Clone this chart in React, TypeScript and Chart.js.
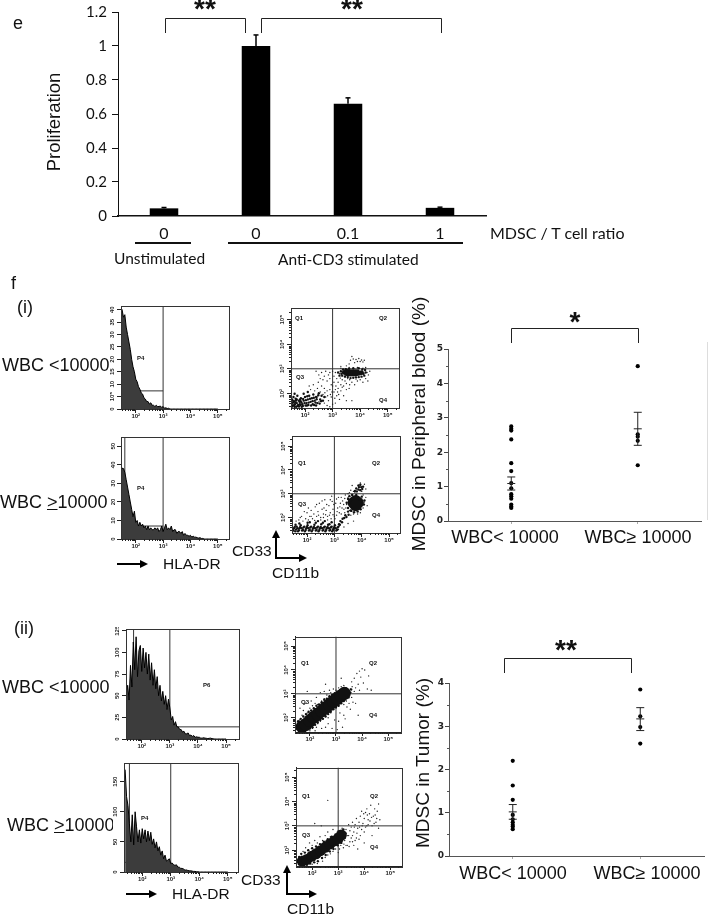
import React, { useEffect, useRef } from "react";
import Chart from "chart.js/auto";

// ---------- bar chart (e) ----------
const ratioLabels = ["0", "0", "0.1", "1"];
const proliferation = [0.045, 1.0, 0.66, 0.048];
const proliferationHi = [0.05, 1.065, 0.695, 0.052];
const proliferationTicks = [0, 0.2, 0.4, 0.6, 0.8, 1, 1.2];

// ---------- histograms ----------
const histBins = [1.4,1.45,1.5,1.55,1.6,1.65,1.7,1.75,1.8,1.85,1.9,1.95,2,2.05,2.1,2.15,2.2,2.25,2.3,2.35,2.4,2.45,2.5,2.55,2.6,2.65,2.7,2.75,2.8,2.85,2.9,2.95,3,3.05,3.1,3.15,3.2,3.25,3.3,3.35,3.4,3.45,3.5,3.55,3.6,3.65,3.7,3.75,3.8,3.85,3.9,3.95,4,4.05,4.1,4.15,4.2,4.25,4.3,4.35,4.4,4.45,4.5,4.55,4.6,4.65,4.7,4.75,4.8,4.85,4.9,4.95,5];
const hist1 = [40,41,40,37,38,33,30,27,24,20,17,15,12,11,9,8,6.5,6,4.5,4,3,3,2,2.5,1.5,1.5,1,1.5,1,1,1.2,0.6,1,0.3,0.5,0.2,0.3];
const hist2 = [40,40,38,38,36,32,28,24,20,16,12,15,9,10,7,9,7,8,6,7,5,7,5,6,5,5,6,5,6,4,5,7,4,6,8,5,6,5,7,4,5,5,3,4,4,3,4,2,3,2,2,1.5,2,1,1.5,1,1,0.7,0.5,0.7,0.3,0.3];
const hist3 = [40,55,62,45,85,60,112,80,118,72,102,108,78,105,82,100,75,98,68,88,62,80,58,72,50,62,44,55,40,50,34,46,36,22,26,16,20,14,14,11,11,8,9,6,6,7,4,4.5,3,4,2,2.5,2,2,1,1,1.5,1,0.8,0.5,0.8,1,0.4,0.3];
const hist4 = [170,125,110,80,50,95,45,100,75,50,70,48,72,55,70,50,68,52,66,46,55,40,50,35,42,28,35,22,28,18,20,22,14,15,12,11,12,8,8,6,6,5,3,3.5,2.5,2,2,1.5,1,1,0.5,0.5];
const hist1YTicks = [0,5,10,15,20,25,30,35,40];
const hist2YTicks = [0,10,20,30,40,50];
const hist3YTicks = [0,25,50,75,100,125];
const hist4YTicks = [0,50,100,150];
const logTicks = [2,3,4,5];
const logMinor = [1.48,1.6,1.7,1.78,1.85,1.9,1.95,2.3,2.48,2.6,2.7,2.78,2.85,2.9,2.95,3.3,3.48,3.6,3.7,3.78,3.85,3.9,3.95,4.3,4.48,4.6,4.7,4.78,4.85,4.9,4.95,5.3];
const logLabels: Record<number,string> = {2:"10²",3:"10³",4:"10⁴",5:"10⁵"};

// ---------- flow plots: [log CD11b, log CD33] ----------
const flow1Core = [[3.42,2.85],[3.5,2.8],[3.5,2.9],[3.58,2.78],[3.58,2.88],[3.66,2.78],[3.66,2.88],[3.74,2.78],[3.74,2.88],[3.82,2.78],[3.82,2.88],[3.9,2.8],[3.9,2.88],[3.98,2.82],[4.05,2.84]];
const flow1Low = [[1.5,1.55],[1.55,1.7],[1.6,1.5],[1.65,1.62],[1.7,1.75],[1.75,1.52],[1.8,1.65],[1.85,1.8],[1.9,1.55],[1.95,1.7],[2,1.85],[2.05,1.6],[2.1,1.75],[2.15,1.9],[2.2,1.65],[2.25,1.8],[2.3,1.95],[2.35,1.7],[2.4,1.85],[2.45,1.6],[1.58,1.85],[1.72,1.9],[2.02,1.5],[2.28,1.55],[1.52,1.45],[1.68,1.45],[1.88,1.45],[2.55,1.75],[2.6,1.9],[2.1,2.05],[1.95,1.98],[2.5,2],[1.62,1.98],[1.83,1.52],[2.12,1.52],[2.4,1.5],[1.52,1.6],[1.56,1.5],[1.6,1.68],[1.63,1.55],[1.66,1.78],[1.7,1.6],[1.73,1.48],[1.77,1.7],[1.81,1.56],[1.84,1.68],[1.87,1.62],[1.92,1.48],[1.93,1.77],[1.98,1.6],[2.03,1.72],[2.07,1.5],[2.08,1.88],[2.13,1.62],[2.18,1.78],[2.22,1.5],[2.27,1.68],[2.32,1.82],[2.38,1.62],[2.42,1.76],[2.48,1.92],[2.53,1.58],[2.58,1.68],[2.33,1.52],[1.53,1.75],[1.57,1.62],[1.62,1.45],[1.67,1.7],[1.78,1.46],[1.82,1.75],[2.65,1.7],[2.7,1.85],[3.25,2.72],[3.3,2.9],[3.35,2.72],[3.38,2.97],[3.45,2.68],[3.55,2.66],[3.65,2.62],[3.75,2.63],[3.85,2.65],[3.95,2.66],[4.05,2.68],[4.15,2.72],[4.2,2.85],[4.18,2.95],[4.08,2.97],[3.2,2.85],[3.95,3.02],[3.6,3],[3.75,3.02],[3.48,2.98],[4.12,2.8],[3.32,2.8]];
const flow1Specks = [[3.6,3.2],[3.65,3.35],[3.7,3.5],[3.8,3.25],[3.85,3.38],[3.9,3.3],[3.95,3.42],[4,3.3],[4.05,3.36],[4.1,3.28],[3.3,3.1],[3.5,3.12],[4.15,3.35],[3.75,3.4],[3,2.9],[3.05,2.7],[3.1,2.85],[3.15,2.6],[3.2,2.45],[3.25,2.8],[3.3,2.35],[3.35,2.55],[3.4,2.3],[3.45,2.5],[3.5,2.4],[3.55,2.6],[3.6,2.2],[3.7,2.45],[3.8,2.35],[3.9,2.5],[4,2.55],[4.1,2.45],[4.2,2.6],[4.25,2.85],[4.3,2.75],[4.2,3.05],[4.1,3.02],[3.9,3.05],[3.6,3.05],[3.3,3.02],[4.35,2.9],[2.4,2.9],[2.5,2.75],[2.6,2.85],[2.55,2.6],[2.7,2.7],[2.75,2.9],[2.8,2.5],[2.85,2.75],[2.9,2.6],[2.95,2.35],[2.6,2.3],[2.7,2.2],[2.8,2.1],[2.9,2.15],[3,2.3],[3.05,2.05],[3.15,1.9],[3.2,2.2],[3.25,1.75],[3.1,1.6],[3.4,1.9],[3.5,1.7],[2.95,1.85],[2.85,1.7],[2.75,1.85],[2.65,1.95],[2.55,2.05],[2.45,2.2],[2.35,2.1],[2.3,2.35],[2.2,2.15],[2.15,2.3],[2.7,1.6],[2.8,1.5],[2.6,1.7],[2.5,1.65],[2.45,1.85],[2.9,1.45],[3,1.55],[3.7,1.7],[3.45,2.7],[3.28,2.62],[3.62,2.55],[4.28,2.5],[3.85,2.58],[3.05,2.45],[3.12,2.3],[3.18,2.05],[3.1,2.15],[3.08,1.8],[2.98,2.05],[2.92,1.95],[2.82,1.9],[2.72,2.02],[3.3,2.1],[3.22,1.95],[3.35,2.25],[3.5,2.15],[3.62,2.35],[2.9,2.85],[2.65,2.55],[2.48,2.45]];

const flow2Core = [[3.78,2.62],[3.7,2.62],[3.86,2.62],[3.78,2.7],[3.78,2.52]];
const flow2Low = [[1.46,1.42],[1.52,1.55],[1.57,1.42],[1.62,1.62],[1.67,1.42],[1.72,1.55],[1.77,1.68],[1.82,1.45],[1.87,1.58],[1.92,1.42],[1.97,1.55],[2.02,1.68],[2.07,1.45],[2.12,1.58],[2.17,1.42],[2.22,1.55],[2.27,1.7],[2.32,1.45],[2.37,1.58],[2.42,1.42],[2.47,1.55],[2.52,1.72],[2.57,1.45],[2.62,1.58],[2.67,1.42],[2.72,1.55],[2.77,1.7],[2.82,1.45],[2.87,1.58],[2.92,1.42],[2.97,1.55],[3.02,1.68],[3.07,1.45],[3.12,1.58],[3.17,1.72],[3.22,1.85],[3.3,1.95],[3.4,2.1],[3.5,2.25],[2.1,1.8],[2.4,1.85],[2.65,1.85],[2.9,1.8],[1.5,1.47],[1.55,1.6],[1.6,1.5],[1.65,1.55],[1.7,1.47],[1.75,1.6],[1.8,1.55],[1.85,1.48],[1.9,1.62],[1.95,1.48],[2,1.6],[2.05,1.55],[2.1,1.48],[2.15,1.62],[2.2,1.48],[2.25,1.6],[2.3,1.55],[2.35,1.48],[2.4,1.62],[2.45,1.48],[2.5,1.6],[2.55,1.55],[2.6,1.48],[2.65,1.62],[2.7,1.48],[2.75,1.6],[2.8,1.55],[2.85,1.48],[2.9,1.62],[2.95,1.48],[3,1.6],[3.05,1.55],[3.1,1.48],[3.15,1.62],[3.2,1.7],[2.82,1.72],[2.58,1.78],[2.32,1.78],[2.02,1.78],[1.72,1.75],[1.58,1.7],[3.28,1.8],[3.36,1.98],[3.44,2.02],[3.52,2.12],[3.6,2.3],[3.75,3.12],[3.82,3.1],[3.88,3.18],[3.95,3.15],[4.02,3.2],[3.8,3.22],[3.9,3.28],[3.98,3.28],[4.05,3.3],[3.88,3.35],[3.95,3.38],[3.45,2.62],[3.5,2.4],[3.5,2.78],[3.55,2.9],[3.62,2.28],[3.72,2.22],[3.85,2.25],[3.96,2.35],[4.08,2.55],[4.1,2.72],[4,2.88],[3.65,2.95],[3.8,2.95]];
const flow2Specks = [[1.7,1.9],[1.8,2.05],[1.95,1.95],[2,2.2],[2.1,2.05],[2.15,2.3],[2.2,1.95],[2.25,2.15],[2.3,2.45],[2.35,2.05],[2.4,2.25],[2.45,2.6],[2.5,2],[2.55,2.35],[2.6,2.15],[2.65,2.75],[2.7,2.3],[2.75,2.05],[2.8,2.5],[2.85,2.2],[2.9,2.9],[2.95,2.35],[3,2.05],[3.05,2.6],[3.1,2.25],[3.15,2.85],[3.2,2.45],[3.25,2.15],[3.3,2.7],[3.35,2.35],[3.4,2.95],[3.45,2.55],[3.5,2.85],[3.55,2.3],[3.6,2.1],[3.65,2.95],[3.7,2.15],[3.85,2.15],[3.95,2.2],[4.05,2.4],[4.1,2.65],[4.15,2.85],[4.2,2.5],[4.05,2.95],[3.5,3],[3.6,3.15],[3.7,3.1],[3.55,3.05],[3.65,3.35],[4,3.1],[4.05,3.3],[4.1,3.4],[3.95,3.45],[3.75,3.05],[4.15,3.2],[2.85,2.75],[2.55,2.7],[2.35,2.55],[2.05,2.4],[1.9,2.25],[3.15,1.5],[3.35,1.6],[3.5,1.75],[3.7,1.85],[1.6,1.85],[1.75,2],[1.85,1.85],[2.05,1.9],[2.15,2.05],[2.28,1.88],[2.42,2.1],[2.5,1.9],[2.6,2],[2.68,2.12],[2.75,1.9],[2.82,2.1],[2.88,1.95],[2.95,2.12],[3.02,1.95],[3.08,2.1],[3.12,2.4],[3.18,2.2],[3.22,2.6],[3.28,2.4],[3.34,2.55],[3.38,2.2],[3.42,2.4],[2.98,2.55],[2.72,2.55],[2.62,2.4],[2.92,2.68],[3.08,2.78],[3.25,2.85],[3.38,2.8]];

const flow3Core = [[1.7,1.62],[1.85,1.72],[2,1.88],[2.15,2.02],[2.3,2.15],[2.45,2.28],[2.6,2.42],[2.75,2.55],[2.9,2.68],[3.05,2.8],[3.2,2.92],[3.32,3.02]];
const flow3Low = [[1.5,1.55],[1.55,1.85],[1.6,1.7],[1.65,1.95],[1.7,1.5],[1.75,2.05],[1.8,1.45],[1.85,2.15],[1.9,1.5],[1.95,2.25],[2,1.55],[2.05,2.3],[2.1,1.6],[2.15,2.4],[2.2,1.7],[2.25,2.5],[2.3,1.8],[2.35,2.55],[2.4,1.9],[2.45,2.65],[2.5,1.95],[2.55,2.75],[2.6,2.05],[2.65,2.8],[2.7,2.15],[2.75,2.9],[2.8,2.25],[2.85,2.95],[2.9,2.35],[2.95,3.02],[3,2.45],[3.05,3.08],[3.1,2.5],[3.15,3.15],[3.2,2.6],[3.25,3.2],[3.3,2.7],[3.35,3.22],[3.4,2.85],[3.45,3.15],[3.5,3],[3.55,3.05],[3.48,2.85],[3.58,3.18],[1.62,1.5],[1.78,1.6],[1.92,1.7],[2.08,1.8],[2.22,1.9],[2.38,2.05],[2.52,2.15],[2.68,2.3],[2.82,2.42],[2.98,2.55],[3.12,2.68],[3.28,2.82],[1.72,1.82],[1.88,1.98],[2.02,2.12],[2.18,2.25],[2.32,2.38],[2.48,2.5],[2.62,2.65],[2.78,2.78],[2.92,2.88],[3.08,2.98],[3.22,3.08]];
const flow3Specks = [[1.5,1.5],[1.55,1.7],[1.6,1.45],[1.6,1.9],[1.65,1.6],[1.7,2.1],[1.7,1.5],[1.75,2.3],[1.8,1.95],[1.85,1.5],[1.9,2.2],[1.95,1.6],[2,2.4],[2,1.45],[2.1,2.5],[2.1,1.55],[2.2,2.6],[2.25,1.6],[2.3,1.75],[2.3,2.55],[2.4,1.85],[2.45,2.7],[2.5,1.95],[2.55,2.8],[2.6,2.05],[2.6,1.6],[2.65,2.95],[2.7,2],[2.8,2.2],[2.8,3.05],[2.85,1.55],[2.9,2.35],[2.9,3.2],[3,2.4],[3,3.15],[3.05,1.5],[3.1,2.5],[3.1,3.25],[3.2,2.6],[3.2,3.3],[3.25,1.6],[3.3,2.55],[3.3,3.35],[3.4,2.7],[3.4,3.25],[3.45,2.9],[3.5,3.05],[3.5,2.6],[3.55,3.2],[3.6,2.85],[3.6,3.5],[3.7,3.65],[3.7,3.1],[3.8,3.85],[3.85,3.4],[3.9,3.95],[3.95,3.7],[4,4.05],[4.1,4],[4.05,3.45],[4.2,3.2],[4.35,3.15],[4.25,3.75],[3.1,1.85],[3.3,2.1],[3.55,2.35],[3.85,2.1],[3.2,3.65],[2.6,3.4],[1.9,3.1],[3.35,1.95],[3.75,2.6],[1.62,2.4],[1.82,2.6],[2.05,2.7],[2.25,2.85],[2.4,3.05],[2.55,3.1],[2.75,3.15],[2.2,1.45],[2.45,1.55],[2.7,1.75],[2.95,1.9],[3.15,2.2],[3.42,2.45],[3.65,2.65],[3.62,3.3],[3.75,3.25],[3.9,3.15]];

const flow4Core = [[1.62,1.55],[1.8,1.62],[1.98,1.75],[2.15,1.85],[2.32,1.98],[2.5,2.12],[2.68,2.25],[2.85,2.38],[3,2.48],[3.12,2.62]];
const flow4Low = [[1.5,1.42],[1.5,1.72],[1.58,1.85],[1.65,1.42],[1.72,1.9],[1.8,1.4],[1.85,2],[1.92,1.45],[2,2.08],[2.08,1.5],[2.15,2.15],[2.22,1.55],[2.3,2.25],[2.38,1.68],[2.45,2.35],[2.52,1.8],[2.6,2.45],[2.68,1.95],[2.75,2.55],[2.82,2.05],[2.9,2.65],[2.98,2.2],[3.05,2.75],[3.12,2.3],[3.2,2.85],[3.25,2.5],[3.28,2.7],[1.7,1.68],[1.88,1.82],[2.05,1.65],[2.25,1.75],[2.42,1.9],[2.6,2.02],[2.78,2.15],[2.92,2.28],[3.08,2.42],[1.95,1.58],[2.12,1.98],[2.3,2.1],[2.48,2.22],[2.65,2.35],[2.82,2.48],[2.95,2.58],[3.18,2.55]];
const flow4Specks = [[1.55,1.4],[1.6,1.75],[1.65,1.95],[1.75,2.1],[1.85,2],[1.9,2.3],[2,2.2],[2,1.42],[2.1,2.4],[2.2,2.3],[2.2,1.45],[2.3,2.55],[2.4,2.4],[2.4,1.55],[2.5,2.6],[2.5,1.7],[2.6,2.75],[2.6,1.8],[2.7,2.55],[2.7,1.85],[2.8,2.85],[2.8,1.95],[2.9,2.6],[2.9,2.05],[3,2.8],[3,1.9],[3.1,2.2],[3.15,2.9],[3.2,2.1],[3.25,2.4],[3.3,2.85],[3.35,2.2],[3.4,2.6],[3.4,3.05],[3.45,2.35],[3.5,2.95],[3.5,2.5],[3.55,3.15],[3.6,2.2],[3.6,2.75],[3.65,3.05],[3.7,2.5],[3.7,3.3],[3.75,2.9],[3.8,3.15],[3.8,2.45],[3.85,3.4],[3.9,2.85],[3.9,3.6],[3.95,3.1],[4,3.3],[4,2.75],[4.05,3.55],[4.1,3],[4.1,3.7],[4.15,3.25],[4.2,3.5],[4.25,3.85],[4.3,3],[4.35,3.4],[4.4,3.7],[4.45,3.15],[4.5,3.6],[4.55,3.9],[4.3,2.6],[4.55,2.9],[4.6,3.25],[3.3,2.2],[3.75,2.05],[4,2.3],[2.35,3],[2.1,3.1],[2.6,4.05],[3.35,2.6],[3.45,2.8],[3.55,2.6],[3.65,2.4],[3.72,2.7],[3.85,2.6],[3.92,3],[4.05,2.95],[4.15,3.05],[4.22,3.2],[4.28,3.35],[4.38,3.1],[4.42,3.45],[4.48,3.3],[3.98,3.5],[4.12,3.45],[3.82,2.95],[3.55,2.35],[3.42,2.15],[3.22,2.25],[3.05,2.05],[3.62,2.95]];

// ---------- dot plots ----------
const groupLabels = ["WBC< 10000", "WBC≥ 10000"];
const bloodLow = [2.75,2.68,2.63,2.37,1.68,1.45,1.1,0.95,0.78,0.72,0.65,0.48,0.42,0.38];
const bloodHigh = [4.5,2.52,2.45,2.33,1.62];
const bloodErr = [[1.09,0.9,1.28],[2.68,2.2,3.16]];
const tumorLow = [2.2,1.63,1.3,0.95,0.85,0.78,0.72,0.68,0.62];
const tumorHigh = [3.85,3.23,2.98,2.6];
const tumorErr = [[1.02,0.85,1.19],[3.17,2.9,3.43]];
const bloodTicks = [0,1,2,3,4,5];
const bloodMinor = [0.5,1.5,2.5,3.5,4.5];
const tumorTicks = [0,1,2,3,4];
const tumorMinor = [0.5,1.5,2.5,3.5];

const ARIAL = '"Liberation Sans", Arial, sans-serif';
const NARROW = 'Lato, "Liberation Sans", sans-serif';

function decor(o: any) {
  return {
    id: "decor",
    afterDatasetsDraw(chart: any) {
      const { ctx, chartArea: a, scales } = chart;
      ctx.save();
      if (o.frame) {
        ctx.strokeStyle = "#333"; ctx.lineWidth = 1;
        ctx.strokeRect(Math.round(a.left)+0.5, Math.round(a.top)+0.5, Math.round(a.width), Math.round(a.height));
      }
      ctx.strokeStyle = o.minorColor || "#222"; ctx.lineWidth = 1;
      for (const v of o.minorX || []) {
        const p = Math.round(scales.x.getPixelForValue(v)) + 0.5;
        if (p < a.left || p > a.right) continue;
        ctx.beginPath(); ctx.moveTo(p, a.bottom); ctx.lineTo(p, a.bottom + (o.minorLen || 2)); ctx.stroke();
      }
      for (const v of o.minorY || []) {
        const p = Math.round(scales.y.getPixelForValue(v)) + 0.5;
        if (p < a.top || p > a.bottom) continue;
        ctx.beginPath(); ctx.moveTo(a.left, p); ctx.lineTo(a.left - (o.minorLen || 2), p); ctx.stroke();
      }
      ctx.strokeStyle = o.errColor || "#111"; ctx.lineWidth = o.errWidth || 1;
      for (const e of o.errors || []) {
        const x = scales.x.getPixelForValue(e.x);
        const seg = (x0: number, y0: number, x1: number, y1: number) => { ctx.beginPath(); ctx.moveTo(x0,y0); ctx.lineTo(x1,y1); ctx.stroke(); };
        const hi = scales.y.getPixelForValue(e.hi), lo = scales.y.getPixelForValue(e.lo);
        seg(x, hi, x, lo);
        seg(x-e.cap, hi, x+e.cap, hi);
        if (e.mid !== undefined) {
          const m = scales.y.getPixelForValue(e.mid);
          seg(x-e.cap, m, x+e.cap, m);
          seg(x-e.cap, lo, x+e.cap, lo);
        }
      }
      ctx.restore();
    },
  };
}

type M = { l: number; r: number; t: number; b: number };
function fixAxes(m: M) {
  return {
    x: (s: any) => { s.height = m.b; s.paddingLeft = 0; s.paddingRight = 0; },
    y: (s: any) => { s.width = m.l; s.paddingTop = 0; s.paddingBottom = 0; },
  };
}

function ChartBox({ box, m, config }: { box: number[]; m: M; config: () => any }) {
  const ref = useRef<HTMLCanvasElement>(null);
  useEffect(() => {
    const c = new Chart(ref.current as any, config());
    return () => c.destroy();
  }, []);
  const [l, t, r, b] = box;
  const w = r - l + m.l + m.r, h = b - t + m.t + m.b;
  return (
    <canvas ref={ref} width={w} height={h}
      style={{ position: "absolute", left: l - m.l, top: t - m.t, width: w, height: h }} />
  );
}

const pts = (a: number[][]) => a.map(([x, y]) => ({ x, y }));

function logAxis(m: M, which: "x" | "y", min: number, max: number, ticks: number[], rotate: boolean) {
  const f = fixAxes(m);
  return {
    type: "linear", min, max,
    afterBuildTicks: (s: any) => { s.ticks = ticks.map((value) => ({ value })); },
    afterFit: f[which],
    border: { color: "#222", width: 1 },
    grid: { display: true, drawOnChartArea: false, drawTicks: true, tickLength: 4, color: "#222", lineWidth: 1 },
    ticks: {
      autoSkip: false, padding: 0,
      font: { family: ARIAL, size: 6, weight: "bold" }, color: "#222",
      callback: (v: number) => logLabels[v] ?? String(v),
      ...(rotate ? { minRotation: 90, maxRotation: 90, crossAlign: "center" } : { maxRotation: 0 }),
    },
  };
}

function histConfig(m: M, values: number[], xr: number[], yMax: number, yTicks: number[], vGates: number[], hGate: number[]) {
  const bins = histBins.map((x, i) => ({ x, y: values[i] ?? 0 }));
  const gate = (d: any[]) => ({ data: d, showLine: true, pointRadius: 0, borderColor: "#333", borderWidth: 1, fill: false });
  return {
    type: "scatter",
    data: {
      datasets: [
        { data: bins, showLine: true, pointRadius: 0, borderColor: "#000", borderWidth: 1, backgroundColor: "#3c3c3c", fill: "origin" },
        ...vGates.map((v) => gate([{ x: v, y: 0 }, { x: v, y: yMax }])),
        gate([{ x: hGate[1], y: hGate[0] }, { x: hGate[2], y: hGate[0] }]),
      ],
    },
    options: {
      animation: false, responsive: false, devicePixelRatio: 1,
      layout: { padding: { top: m.t, right: m.r } },
      plugins: { legend: { display: false }, tooltip: { enabled: false } },
      scales: { x: logAxis(m, "x", xr[0], xr[1], logTicks, false), y: logAxis(m, "y", 0, yMax, yTicks, true) },
    },
    plugins: [decor({ frame: true, minorX: logMinor })],
  };
}

function flowConfig(m: M, core: number[][], low: number[][], specks: number[][], xr: number[], yr: number[], coreR: number) {
  const gate = (d: number[][]) => ({ data: pts(d), showLine: true, pointRadius: 0, borderColor: "#333", borderWidth: 1, fill: false });
  return {
    type: "scatter",
    data: {
      datasets: [
        { data: pts(core), pointRadius: coreR, pointBackgroundColor: "#111", pointBorderWidth: 0 },
        { data: pts(low), pointRadius: 1.2, pointBackgroundColor: "#111", pointBorderWidth: 0 },
        { data: pts(specks), pointRadius: 0.7, pointBackgroundColor: "#222", pointBorderWidth: 0 },
        gate([[3, yr[0]], [3, yr[1]]]),
        gate([[xr[0], 3], [xr[1], 3]]),
      ],
    },
    options: {
      animation: false, responsive: false, devicePixelRatio: 1,
      layout: { padding: { top: m.t, right: m.r } },
      plugins: { legend: { display: false }, tooltip: { enabled: false } },
      scales: { x: logAxis(m, "x", xr[0], xr[1], logTicks, false), y: logAxis(m, "y", yr[0], yr[1], logTicks, true) },
    },
    plugins: [decor({ frame: true, minorX: logMinor, minorY: logMinor })],
  };
}

function dotConfig(m: M, low: number[], high: number[], err: number[][], yMax: number, ticks: number[], minor: number[]) {
  const f = fixAxes(m);
  return {
    type: "scatter",
    data: {
      datasets: [
        { data: low.map((y) => ({ x: 0, y })), pointRadius: 2.1, pointBackgroundColor: "#000", pointBorderWidth: 0 },
        { data: high.map((y) => ({ x: 1, y })), pointRadius: 2.1, pointBackgroundColor: "#000", pointBorderWidth: 0 },
      ],
    },
    options: {
      animation: false, responsive: false, devicePixelRatio: 1,
      layout: { padding: { top: m.t, right: m.r } },
      plugins: { legend: { display: false }, tooltip: { enabled: false } },
      scales: {
        x: {
          type: "linear", min: -0.5, max: 1.5, afterFit: f.x,
          afterBuildTicks: (s: any) => { s.ticks = [{ value: 0 }, { value: 1 }]; },
          border: { color: "#555", width: 1 },
          grid: { drawOnChartArea: false, tickLength: 3, color: "#aaa" },
          ticks: { display: false },
        },
        y: {
          type: "linear", min: 0, max: yMax, afterFit: f.y,
          afterBuildTicks: (s: any) => { s.ticks = ticks.map((value) => ({ value })); },
          border: { color: "#555", width: 1 },
          grid: { drawOnChartArea: false, tickLength: 4, color: "#444" },
          ticks: { padding: 1, font: { family: '"DejaVu Sans"', size: 9, weight: "bold" }, color: "#222" },
        },
      },
    },
    plugins: [decor({
      minorY: minor, minorLen: 2, minorColor: "#555", errColor: "#222",
      errors: err.map((e, i) => ({ x: i, mid: e[0], lo: e[1], hi: e[2], cap: 4 })),
    })],
  };
}

function barConfig(m: M) {
  const f = fixAxes(m);
  return {
    type: "bar",
    data: { labels: ratioLabels, datasets: [{ data: proliferation, backgroundColor: "#000", barPercentage: 0.31, categoryPercentage: 1 }] },
    options: {
      animation: false, responsive: false, devicePixelRatio: 1,
      layout: { padding: { top: m.t, right: m.r } },
      plugins: { legend: { display: false }, tooltip: { enabled: false } },
      scales: {
        x: {
          afterFit: f.x,
          border: { color: "#111", width: 1.5 },
          grid: { display: false },
          ticks: { padding: 0, font: { family: NARROW, size: 16 }, color: "#111" },
        },
        y: {
          min: 0, max: 1.2, afterFit: f.y,
          afterBuildTicks: (s: any) => { s.ticks = proliferationTicks.map((value) => ({ value })); },
          border: { color: "#111", width: 1 },
          grid: { drawOnChartArea: false, tickLength: 6, color: "#111" },
          ticks: { padding: 5, font: { family: NARROW, size: 15 }, color: "#111", callback: (v: number) => String(v) },
        },
      },
    },
    plugins: [decor({
      errColor: "#000", errWidth: 1.5,
      errors: proliferationHi.map((hi, i) => ({ x: i, lo: proliferation[i], hi, cap: 2.5 })),
    })],
  };
}

function T({ x, y, size = 18, font = ARIAL, anchor = "left", clip, weight, children }: any) {
  const style: React.CSSProperties = {
    position: "absolute", left: x, top: y, fontFamily: font, fontSize: size, fontWeight: weight, lineHeight: 1,
    whiteSpace: "nowrap", color: "#111",
    transform: `translateY(-50%)${anchor === "center" ? " translateX(-50%)" : ""}`,
  };
  if (clip) { style.width = clip; style.overflow = "hidden"; }
  return <div style={style}>{children}</div>;
}

function VText({ x, y, size, children }: any) {
  return (
    <div style={{ position: "absolute", left: x, top: y, fontFamily: ARIAL, fontSize: size, lineHeight: 1, whiteSpace: "nowrap", color: "#111", transform: "translate(-50%,-50%) rotate(-90deg)" }}>{children}</div>
  );
}

const GE = <span style={{ textDecoration: "underline" }}>&gt;</span>;

function Overlay() {
  const bracket = (x0: number, x1: number, top: number, bot: number) => `M${x0} ${bot}V${top}H${x1}V${bot}`;
  return (
    <svg width={708} height={915} style={{ position: "absolute", left: 0, top: 0, pointerEvents: "none" }}>
      <g fill="none" stroke="#222" strokeWidth={1}>
        <path d={bracket(165.5, 245.5, 18.5, 33)} />
        <path d={bracket(261.5, 441.5, 18.5, 33)} />
        <path d={bracket(511.5, 638.5, 328.5, 343)} />
        <path d={bracket(504.5, 631.5, 658.5, 673)} />
      </g>
      <g stroke="#111" strokeWidth={2}>
        <line x1={135} x2={191} y1={243} y2={243} />
        <line x1={228} x2={463} y1={243} y2={243} />
      </g>
      <g fill="none" stroke="#000" strokeWidth={2}>
        <line x1={117} x2={142} y1={564} y2={564} />
        <line x1={126} x2={151} y1={894} y2={894} />
        <path d="M276 536V558H301" />
        <path d="M287 871V894H311" />
      </g>
      <g fill="#000" stroke="none">
        <path d="M148 564l-8 -4v8z" />
        <path d="M157 894l-8 -4v8z" />
        <path d="M276 530l-4 8h8z" />
        <path d="M307 558l-8 -4v8z" />
        <path d="M287 865l-4 8h8z" />
        <path d="M317 894l-8 -4v8z" />
      </g>
    </svg>
  );
}

export default function App() {
  const mHist: M = { l: 14, r: 8, t: 2, b: 14 };
  const mFlow: M = { l: 14, r: 8, t: 2, b: 14 };
  const mDot: M = { l: 16, r: 2, t: 7, b: 8 };
  const mBar: M = { l: 58, r: 6, t: 8, b: 32 };
  return (
    <div style={{ position: "absolute", left: 0, top: 0, width: 708, height: 915, overflow: "hidden", background: "#fff", filter: "blur(0.4px)" }}>
      <ChartBox box={[118, 12, 486, 216]} m={mBar} config={() => barConfig(mBar)} />

      <ChartBox box={[121, 306, 229, 409]} m={mHist} config={() => histConfig(mHist, hist1, [1.46, 5.41], 41.5, hist1YTicks, [3], [7.3, 1.46, 3])} />
      <ChartBox box={[121, 437, 229, 539]} m={mHist} config={() => histConfig(mHist, hist2, [1.46, 5.41], 55, hist2YTicks, [1.6, 3], [7, 1.46, 3])} />
      <ChartBox box={[126, 629, 239, 739]} m={mHist} config={() => histConfig(mHist, hist3, [1.44, 5.46], 127, hist3YTicks, [1.71, 3], [14, 3, 5.46])} />
      <ChartBox box={[124, 763, 238, 872]} m={mHist} config={() => histConfig(mHist, hist4, [1.36, 5.36], 181, hist4YTicks, [1.55, 3], [16, 1.36, 3])} />

      <ChartBox box={[291, 306, 399, 408]} m={mFlow} config={() => flowConfig(mFlow, flow1Core, flow1Low, flow1Specks, [1.49, 5.41], [1.4, 5.48], 2.4)} />
      <ChartBox box={[292, 432, 400, 533]} m={mFlow} config={() => flowConfig(mFlow, flow2Core, flow2Low, flow2Specks, [1.45, 5.4], [1.35, 5.43], 6)} />
      <ChartBox box={[295, 632, 401, 732]} m={mFlow} config={() => flowConfig(mFlow, flow3Core, flow3Low, flow3Specks, [1.43, 5.49], [1.4, 5.4], 6.5)} />
      <ChartBox box={[296, 764, 402, 866]} m={mFlow} config={() => flowConfig(mFlow, flow4Core, flow4Low, flow4Specks, [1.38, 5.45], [1.35, 5.4], 5.5)} />

      <ChartBox box={[448, 349, 703, 521]} m={mDot} config={() => dotConfig(mDot, bloodLow, bloodHigh, bloodErr, 5, bloodTicks, bloodMinor)} />
      <ChartBox box={[449, 683, 706, 856]} m={mDot} config={() => dotConfig(mDot, tumorLow, tumorHigh, tumorErr, 4, tumorTicks, tumorMinor)} />

      <Overlay />
      <div style={{ position: "absolute", left: 707, top: 342, width: 1, height: 178, background: "#ddd" }} />

      <T x={13} y={23} size={18}>e</T>
      <T x={11} y={283} size={18}>f</T>
      <VText x={54} y={122} size={18.5}>Proliferation</VText>
      <T x={205} y={9} size={28} anchor="center" weight="bold">**</T>
      <T x={352} y={9} size={28} anchor="center" weight="bold">**</T>
      <T x={490} y={233} size={16} font={NARROW}>MDSC / T cell ratio</T>
      <T x={114} y={259} size={15.5} font={NARROW}>Unstimulated</T>
      <T x={278} y={260} size={15.5} font={NARROW}>Anti-CD3 stimulated</T>

      <T x={17} y={307} size={18}>(i)</T>
      <T x={2} y={365} size={18}>WBC &lt;10000</T>
      <T x={0} y={502} size={18}>WBC {GE}10000</T>
      <T x={163} y={564} size={15.5}>HLA-DR</T>
      <T x={232} y={551} size={15.5}>CD33</T>
      <T x={272} y={573} size={15.5}>CD11b</T>
      <T x={137} y={358} size={6} weight="bold">P4</T>
      <T x={137} y={488} size={6} weight="bold">P4</T>
      <T x={295} y={318} size={6} weight="bold">Q1</T>
      <T x={379} y={318} size={6} weight="bold">Q2</T>
      <T x={296} y={377} size={6} weight="bold">Q3</T>
      <T x={379} y={400} size={6} weight="bold">Q4</T>
      <T x={298} y={463} size={6} weight="bold">Q1</T>
      <T x={372} y={463} size={6} weight="bold">Q2</T>
      <T x={298} y={504} size={6} weight="bold">Q3</T>
      <T x={372} y={515} size={6} weight="bold">Q4</T>
      <VText x={418} y={424} size={19}>MDSC in Peripheral blood (%)</VText>
      <T x={575} y={322} size={28} anchor="center" weight="bold">*</T>
      <T x={505} y={537} size={18} anchor="center">{groupLabels[0]}</T>
      <T x={638} y={537} size={18} anchor="center">{groupLabels[1]}</T>

      <T x={14} y={628} size={18}>(ii)</T>
      <T x={2} y={687} size={18}>WBC &lt;10000</T>
      <T x={7} y={825} size={18} clip={106}>WBC {GE}10000</T>
      <T x={172} y={894} size={15.5}>HLA-DR</T>
      <T x={241} y={880} size={15.5}>CD33</T>
      <T x={287} y={909} size={15.5}>CD11b</T>
      <T x={203} y={685} size={6} weight="bold">P6</T>
      <T x={141} y={818} size={6} weight="bold">P4</T>
      <T x={301} y={663} size={6} weight="bold">Q1</T>
      <T x={369} y={663} size={6} weight="bold">Q2</T>
      <T x={301} y={702} size={6} weight="bold">Q3</T>
      <T x={369} y={715} size={6} weight="bold">Q4</T>
      <T x={302} y={796} size={6} weight="bold">Q1</T>
      <T x={370} y={796} size={6} weight="bold">Q2</T>
      <T x={302} y={835} size={6} weight="bold">Q3</T>
      <T x={370} y={847} size={6} weight="bold">Q4</T>
      <VText x={422} y={763} size={19}>MDSC in Tumor (%)</VText>
      <T x={566} y={650} size={28} anchor="center" weight="bold">**</T>
      <T x={513} y={873} size={18} anchor="center">{groupLabels[0]}</T>
      <T x={647} y={873} size={18} anchor="center">{groupLabels[1]}</T>
    </div>
  );
}
